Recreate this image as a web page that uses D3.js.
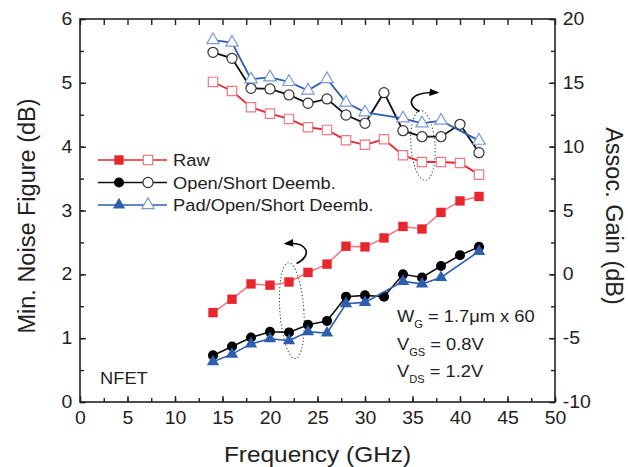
<!DOCTYPE html>
<html>
<head>
  <meta charset="utf-8">
  <title>NFmin and Associated Gain</title>
  <script src="https://d3js.org/d3.v7.min.js"></script>
  <style>
    body { margin: 0; background: #fff; }
    text { font-family: "Liberation Sans", Arial, sans-serif; fill: #222; }
  </style>
</head>
<body>
  <div id="chart"></div>
  <script>
    // frequency points (GHz)
    const freq = [14, 16, 18, 20, 22, 24, 26, 28, 30, 32, 34, 36, 38, 40, 42];

    // min noise figure (dB), left axis
    const nfRaw = [1.40, 1.61, 1.85, 1.83, 1.88, 2.03, 2.16, 2.44, 2.43, 2.57, 2.75, 2.71, 2.97, 3.15, 3.22];
    const nfOS = [0.73, 0.87, 1.01, 1.10, 1.09, 1.21, 1.27, 1.65, 1.67, 1.65, 2.00, 1.95, 2.13, 2.30, 2.43];
    const nfPOS = [0.63, 0.75, 0.91, 0.99, 0.96, 1.10, 1.08, 1.54, 1.56, null, 1.89, 1.85, 1.95, null, 2.36];

    // associated gain (dB), right axis
    const gaRaw = [15.07, 14.36, 13.09, 12.59, 12.17, 11.52, 11.31, 10.50, 10.15, 10.58, 9.33, 8.80, 8.80, 8.72, 7.81];
    const gaOS = [17.39, 16.92, 14.57, 14.52, 14.05, 13.40, 13.74, 12.48, 11.83, 14.23, 11.25, 10.78, 10.78, 11.75, 9.53];
    const gaPOS = [18.35, 18.15, 15.28, 15.43, 15.07, 14.40, 15.30, 13.45, 12.69, null, 12.22, 11.83, 12.04, null, 10.47];

    const xTicks = [0, 5, 10, 15, 20, 25, 30, 35, 40, 45, 50];
    const yTicksL = [0, 1, 2, 3, 4, 5, 6];
    const yTicksR = [-10, -5, 0, 5, 10, 15, 20];

    const legendNames = ["Raw", "Open/Short Deemb.", "Pad/Open/Short Deemb."];
    const biasLines = [["W", "G", " = 1.7\u03bcm x 60"], ["V", "GS", " = 0.8V"], ["V", "DS", " = 1.2V"]];

    const W = 628, H = 467;
    const margin = { top: 19, right: 73, bottom: 65, left: 80 };
    const width = W - margin.left - margin.right;
    const height = H - margin.top - margin.bottom;
    const sx = 1.11; // the original lettering is a bit wide

    const svg = d3.select("#chart").append("svg")
      .attr("width", W).attr("height", H);
    const g = svg.append("g")
      .attr("transform", "translate(" + margin.left + "," + margin.top + ")");

    const x = d3.scaleLinear().domain([0, 50]).range([0, width]);
    const yL = d3.scaleLinear().domain([0, 6]).range([height, 0]);
    const yR = d3.scaleLinear().domain([-10, 20]).range([height, 0]);

    const red = "#e8262e", redLight = "#f07a80";
    const blue = "#2d5fae", blueLight = "#7b9ad6";

    const series = [
      { name: legendNames[0], shape: "square", fill: red, line: redLight, nf: nfRaw, ga: gaRaw, gaStroke: redLight, gaLine: red },
      { name: legendNames[1], shape: "circle", fill: "#000", line: "#111", nf: nfOS, ga: gaOS, gaStroke: "#333", gaLine: "#111" },
      { name: legendNames[2], shape: "triangle", fill: blue, line: blue, nf: nfPOS, ga: gaPOS, gaStroke: blueLight, gaLine: blue }
    ];

    const symType = { square: d3.symbolSquare, circle: d3.symbolCircle, triangle: d3.symbolTriangle };
    const symSize = { square: 88, circle: 80, triangle: 66 };
    function sym(shape) {
      return d3.symbol().type(symType[shape]).size(symSize[shape])();
    }

    // text placed at (px,py), stretched sideways
    function label(px, py, size, str) {
      return g.append("text")
        .attr("transform", "translate(" + px + "," + py + ") scale(" + sx + ",1)")
        .style("font-size", size + "px").text(str);
    }

    // axes with inward ticks
    const minorX = d3.range(0, 50.01, 2.5);
    const minorL = d3.range(0, 6.01, 0.5);
    const minorR = d3.range(-10, 20.01, 2.5);
    const fmt = d => String(d);

    function tickGroup(axis, vals, len) {
      return axis.tickValues(vals).tickSizeInner(-len).tickSizeOuter(0).tickFormat("");
    }

    g.append("g").attr("class", "ax").attr("transform", "translate(0," + height + ")")
      .call(tickGroup(d3.axisBottom(x), minorX, 4));
    g.append("g").attr("class", "ax").attr("transform", "translate(0," + height + ")")
      .call(d3.axisBottom(x).tickValues(xTicks).tickFormat(fmt).tickSizeInner(-6).tickSizeOuter(0).tickPadding(10));
    g.append("g").attr("class", "ax")
      .call(tickGroup(d3.axisTop(x), minorX, 6));
    g.append("g").attr("class", "ax")
      .call(tickGroup(d3.axisLeft(yL), minorL, 4));
    g.append("g").attr("class", "ax")
      .call(d3.axisLeft(yL).tickValues(yTicksL).tickFormat(fmt).tickSizeInner(-6).tickSizeOuter(0).tickPadding(7));
    g.append("g").attr("class", "ax").attr("transform", "translate(" + width + ",0)")
      .call(tickGroup(d3.axisRight(yR), minorR, 4));
    g.append("g").attr("class", "ax").attr("transform", "translate(" + width + ",0)")
      .call(d3.axisRight(yR).tickValues(yTicksR).tickFormat(fmt).tickSizeInner(-6).tickSizeOuter(0).tickPadding(7));

    g.selectAll(".ax path").remove();
    g.selectAll(".ax line").attr("stroke", "#222").attr("stroke-width", 1.4);
    g.selectAll(".ax text").style("font-size", "17.5px").attr("fill", "#222")
      .attr("transform", "scale(" + sx + ",1)");

    // frame
    g.append("rect").attr("width", width).attr("height", height)
      .attr("fill", "none").attr("stroke", "#222").attr("stroke-width", 1.6);

    // axis titles
    label(width / 2, height + 60, 22, "Frequency (GHz)").attr("text-anchor", "middle");
    g.append("text")
      .attr("transform", "translate(" + (35 - margin.left) + "," + (216 - margin.top) + ") rotate(-90)")
      .attr("text-anchor", "middle").style("font-size", "23.5px")
      .text("Min. Noise Figure (dB)");
    g.append("text")
      .attr("transform", "translate(" + (606 - margin.left) + "," + (216 - margin.top) + ") rotate(90)")
      .attr("text-anchor", "middle").style("font-size", "23.5px")
      .text("Assoc. Gain (dB)");

    // dotted ellipses and curved arrows
    const ell = g.append("g").attr("fill", "none").attr("stroke", "#333")
      .attr("stroke-width", 1).attr("stroke-dasharray", "1.2,2.2");
    ell.append("ellipse")
      .attr("cx", x(22.3)).attr("cy", yL(1.43)).attr("rx", 12).attr("ry", 48)
      .attr("transform", "rotate(-4," + x(22.3) + "," + yL(1.43) + ")");
    ell.append("ellipse")
      .attr("cx", x(36.1)).attr("cy", yR(10.1)).attr("rx", 12).attr("ry", 35)
      .attr("transform", "rotate(-4," + x(36.1) + "," + yR(10.1) + ")");

    const defs = svg.append("defs");
    defs.append("marker").attr("id", "ah").attr("viewBox", "0 0 10 10")
      .attr("refX", 8).attr("refY", 5).attr("markerWidth", 6).attr("markerHeight", 6)
      .attr("orient", "auto")
      .append("path").attr("d", "M0,1 L10,5 L0,9 Z").attr("fill", "#000");

    const a1x = x(22.8), a1y = yL(2.17);
    g.append("path")
      .attr("d", "M" + a1x + "," + a1y + " C" + (a1x + 16) + "," + (a1y - 8) + " " + (a1x + 12) + "," + (a1y - 22) + " " + (a1x - 11) + "," + (a1y - 20))
      .attr("fill", "none").attr("stroke", "#000").attr("stroke-width", 1.6)
      .attr("marker-end", "url(#ah)");
    const a2x = x(35.7), a2y = yR(12.75);
    g.append("path")
      .attr("d", "M" + a2x + "," + a2y + " C" + (a2x - 14) + "," + (a2y - 8) + " " + (a2x - 10) + "," + (a2y - 20) + " " + (a2x + 18) + "," + (a2y - 19))
      .attr("fill", "none").attr("stroke", "#000").attr("stroke-width", 1.6)
      .attr("marker-end", "url(#ah)");

    // data lines and markers
    series.forEach(function(s) {
      const nfPts = freq.map((f, i) => [f, s.nf[i]]).filter(d => d[1] != null);
      const gaPts = freq.map((f, i) => [f, s.ga[i]]).filter(d => d[1] != null);

      g.append("path").datum(gaPts)
        .attr("fill", "none").attr("stroke", s.gaLine).attr("stroke-width", 1.8)
        .attr("d", d3.line().x(d => x(d[0])).y(d => yR(d[1])));
      g.append("path").datum(nfPts)
        .attr("fill", "none").attr("stroke", s.line).attr("stroke-width", 1.6)
        .attr("d", d3.line().x(d => x(d[0])).y(d => yL(d[1])));

      g.selectAll(null).data(gaPts).enter().append("path")
        .attr("d", sym(s.shape))
        .attr("transform", d => "translate(" + x(d[0]) + "," + yR(d[1]) + ")")
        .attr("fill", "#fff").attr("stroke", s.gaStroke).attr("stroke-width", 1.2);
      g.selectAll(null).data(nfPts).enter().append("path")
        .attr("d", sym(s.shape))
        .attr("transform", d => "translate(" + x(d[0]) + "," + yL(d[1]) + ")")
        .attr("fill", s.fill).attr("stroke", "none");
    });

    // legend
    const legX = 98 - margin.left, legY = 160 - margin.top;
    series.forEach(function(s, i) {
      const ry = legY + i * 22.5;
      const row = g.append("g").attr("transform", "translate(" + legX + "," + ry + ")");
      row.append("line").attr("x1", 0).attr("x2", 69).attr("y1", 0).attr("y2", 0)
        .attr("stroke", s.gaLine).attr("stroke-width", 1.6);
      row.append("path").attr("d", sym(s.shape)).attr("transform", "translate(21,0)")
        .attr("fill", s.fill);
      row.append("path").attr("d", sym(s.shape)).attr("transform", "translate(50,0)")
        .attr("fill", "#fff").attr("stroke", s.gaStroke).attr("stroke-width", 1.2);
      label(legX + 75, ry + 6, 16.5, s.name);
    });

    // annotations
    label(100 - margin.left, 384 - margin.top, 16.5, "NFET");

    biasLines.forEach(function(b, i) {
      const t = label(397 - margin.left, 322 - margin.top + i * 27.5, 16.5, "");
      t.append("tspan").text(b[0]);
      t.append("tspan").attr("dy", 6).style("font-size", "10px").text(b[1]);
      t.append("tspan").attr("dy", -6).text(b[2]);
    });
  </script>
</body>
</html>
